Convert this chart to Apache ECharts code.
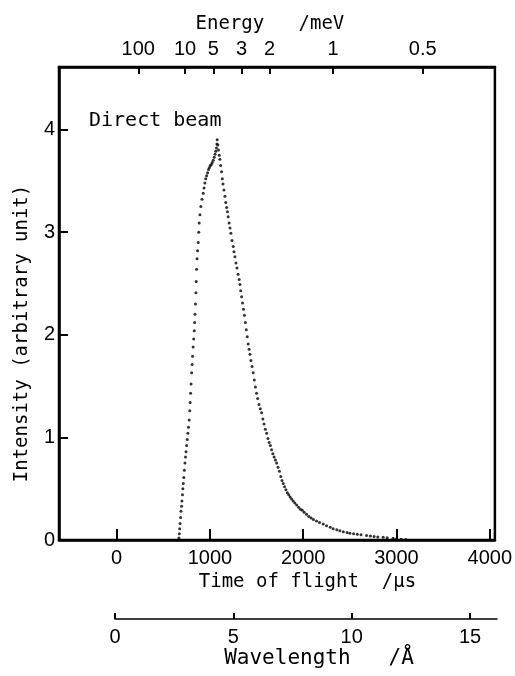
<!DOCTYPE html>
<html>
<head>
<meta charset="utf-8">
<script src="https://cdn.jsdelivr.net/npm/echarts@6/dist/echarts.min.js"></script>
<style>html,body{margin:0;padding:0;background:#fff}#chart{width:515px;height:676px}</style>
</head>
<body>
<div id="chart"></div>
<script>
// ---- Data ----
const tof = [
 660,668,672,676,680,686,690,696,700,706,710,714,720,726,732,738,744,750,757,764,770,778,784,788,793,798,804,809,814,820,826,832,836,840,845,850,853,857,862,868,875,880,885,893,903,915,928,937,946,955,965,975,985,995,1005,1015,1025,1036,1046,1055,1063,1070,1075,1078,
 1085,1092,1100,1107,1115,1125,1133,1140,1150,1161,1170,1180,1188,1196,1206,1215,1225,1237,1250,1258,1268,1279,1290,1302,1314,1322,1330,1340,1350,1360,1370,1380,1390,1400,1410,1420,1429,1440,1452,1464,1476,1488,1500,1512,1526,1540,1554,1568,1580,1594,1608,1622,1635,1648,1661,1675,1688,1702,1715,1730,1745,1760,1773,1786,1800,1815,1830,1845,1860,1876,1893,1910,1930,1950,1970,1990,2010,2036,2060,2085,2110,2143,2175,2214,2250,2290,2321,2360,2393,2430,2470,2500,2540,2580,2620,2679,2720,2760,2800,2857,2900,2964,3000,3050,3100
];
const intensity = [
 0.0,0.02,0.06,0.11,0.16,0.22,0.28,0.33,0.38,0.44,0.50,0.55,0.61,0.68,0.75,0.81,0.86,0.92,0.98,1.04,1.10,1.17,1.26,1.34,1.43,1.52,1.63,1.71,1.79,1.88,1.96,2.04,2.12,2.20,2.30,2.41,2.52,2.64,2.74,2.82,2.90,3.00,3.09,3.17,3.25,3.32,3.38,3.43,3.48,3.52,3.55,3.58,3.61,3.63,3.65,3.66,3.68,3.70,3.73,3.76,3.79,3.82,3.86,3.90,
 3.85,3.80,3.75,3.71,3.65,3.59,3.52,3.47,3.41,3.35,3.29,3.24,3.20,3.15,3.09,3.04,2.99,2.92,2.86,2.81,2.76,2.70,2.65,2.59,2.54,2.49,2.43,2.37,2.31,2.25,2.19,2.12,2.05,1.98,1.91,1.86,1.81,1.75,1.69,1.63,1.56,1.49,1.43,1.38,1.32,1.28,1.24,1.18,1.13,1.08,1.04,0.99,0.95,0.92,0.88,0.84,0.81,0.78,0.75,0.71,0.67,0.62,0.58,0.55,0.52,0.49,0.46,0.44,0.42,0.40,0.38,0.36,0.34,0.32,0.30,0.29,0.27,0.25,0.23,0.215,0.20,0.185,0.17,0.155,0.14,0.125,0.11,0.10,0.09,0.08,0.072,0.066,0.06,0.055,0.05,0.045,0.04,0.035,0.03,0.026,0.022,0.018,0.012,0.008,0.005
];
const timeTicks = [0, 1000, 2000, 3000, 4000];
const intensityTicks = [0, 1, 2, 3, 4];
const energyTicks = [100, 10, 5, 3, 2, 1, 0.5];
const energyLabels = ['100', '10', '5', '3', '2', '1', '0.5'];
const wavelengthTicks = [0, 5, 10, 15];
// flight-time constant (µs·meV^0.5) of the instrument: t = K / sqrt(E)
const K_TOF = 2320;
const timeRange = [-618, 4055];
const intensityMax = 4.61;
const wavelengthMax = 16.14;

// ---- Chart ----
const NUM_FONT = 'Liberation Sans';
const TXT_FONT = 'DejaVu Sans Mono';
const energyTimes = energyTicks.map(E => K_TOF / Math.sqrt(E));
const chart = echarts.init(document.getElementById('chart'), null, {renderer: 'canvas'});
const numStyle = {color: '#000', fontFamily: NUM_FONT, fontSize: 20};
const nameStyle = {color: '#000', fontFamily: TXT_FONT, fontSize: 19};
chart.setOption({
  animation: false,
  backgroundColor: '#fff',
  textStyle: {fontFamily: NUM_FONT, color: '#000'},
  title: {
    text: 'Direct beam', left: 84, top: 106,
    textStyle: {fontFamily: TXT_FONT, fontSize: 20, fontWeight: 'normal', color: '#000'}
  },
  grid: [
    {left: 59, right: 20, top: 67, bottom: 136, show: true, borderColor: '#000', borderWidth: 2.5},
    {left: 115, right: 18, top: 619, height: 0}
  ],
  xAxis: [
    {
      gridIndex: 0, type: 'value', position: 'bottom',
      min: timeRange[0], max: timeRange[1],
      name: 'Time of flight  /µs', nameLocation: 'middle', nameGap: 31,
      nameTextStyle: Object.assign({}, nameStyle, {padding: [0, 0, 0, 61]}),
      axisLine: {show: true, onZero: false, lineStyle: {color: '#000', width: 2.5}},
      axisTick: {show: true, inside: true, length: 11, customValues: timeTicks, lineStyle: {color: '#000', width: 2}},
      axisLabel: Object.assign({customValues: timeTicks, margin: 8, formatter: v => String(v)}, numStyle),
      splitLine: {show: false}
    },
    {
      gridIndex: 0, type: 'value', position: 'top',
      min: timeRange[0], max: timeRange[1],
      name: 'Energy   /meV', nameLocation: 'middle', nameGap: 33,
      nameTextStyle: Object.assign({}, nameStyle, {padding: [0, 14, 0, 0]}),
      axisLine: {show: true, onZero: false, lineStyle: {color: '#000', width: 2.5}},
      axisTick: {show: true, inside: true, length: 7, customValues: energyTimes, lineStyle: {color: '#000', width: 2}},
      axisLabel: Object.assign({
        customValues: energyTimes, margin: 8,
        formatter: function (v) {
          let best = 0, bd = Infinity;
          energyTimes.forEach((t, i) => { const d = Math.abs(t - v); if (d < bd) { bd = d; best = i; } });
          return energyLabels[best];
        }
      }, numStyle),
      splitLine: {show: false}
    },
    {
      gridIndex: 1, type: 'value', position: 'bottom',
      min: 0, max: wavelengthMax,
      name: 'Wavelength   /Å', nameLocation: 'middle', nameGap: 26,
      nameTextStyle: Object.assign({}, nameStyle, {fontSize: 21, padding: [0, 0, 0, 26]}),
      axisLine: {show: true, lineStyle: {color: '#000', width: 1.5}},
      axisTick: {show: true, inside: true, length: 6, customValues: wavelengthTicks, lineStyle: {color: '#000', width: 2}},
      axisLabel: Object.assign({customValues: wavelengthTicks, margin: 8}, numStyle, {fontSize: 20}),
      splitLine: {show: false}
    }
  ],
  yAxis: [
    {
      gridIndex: 0, type: 'value', min: 0, max: intensityMax,
      name: 'Intensity (arbitrary unit)', nameLocation: 'middle', nameGap: 27, nameRotate: 90,
      nameTextStyle: Object.assign({}, nameStyle, {padding: [0, 60, 0, 0]}),
      axisLine: {show: true, onZero: false, lineStyle: {color: '#000', width: 2.5}},
      axisTick: {show: true, inside: true, length: 9, customValues: intensityTicks, lineStyle: {color: '#000', width: 2}},
      axisLabel: Object.assign({customValues: intensityTicks, margin: 4}, numStyle),
      splitLine: {show: false}
    },
    {gridIndex: 1, type: 'value', show: false, min: 0, max: 1}
  ],
  series: [{
    type: 'scatter', xAxisIndex: 0, yAxisIndex: 0,
    symbol: 'circle', symbolSize: 3,
    itemStyle: {color: '#000'},
    data: tof.map((t, i) => [t, intensity[i]])
  }]
});
</script>
</body>
</html>
